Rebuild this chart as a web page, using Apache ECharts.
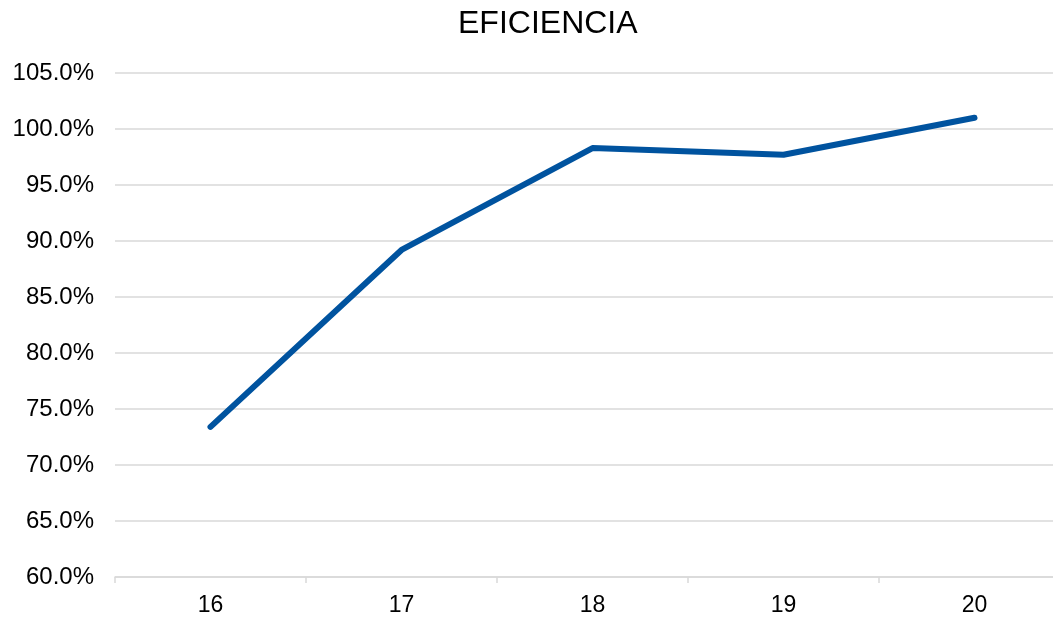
<!DOCTYPE html>
<html>
<head>
<meta charset="utf-8">
<script src="https://cdn.jsdelivr.net/npm/echarts@6/dist/echarts.min.js"></script>
<style>
  html, body { margin: 0; padding: 0; background: #fff; }
  #chart { width: 1053px; height: 618px; }
</style>
</head>
<body>
<div id="chart"></div>
<script>
// Data
const categories = ['16', '17', '18', '19', '20'];
const eficiencia = [73.4, 89.2, 98.3, 97.7, 101.0];

const chart = echarts.init(document.getElementById('chart'));
chart.setOption({
    animation: false,
    title: {
        text: 'EFICIENCIA',
        left: 453,
        top: 3,
        textStyle: { fontFamily: 'Liberation Sans', fontSize: 32, fontWeight: 'normal', color: '#000' }
    },
    // plot area runs a little past the right edge, as in the reference
    grid: { left: 115, top: 73, width: 955, height: 504, outerBoundsMode: 'none' },
    xAxis: {
        type: 'category',
        data: categories,
        boundaryGap: true,
        axisLine: { lineStyle: { color: '#d9d9d9', width: 1.5 } },
        axisTick: { show: true, length: 6, lineStyle: { color: '#d9d9d9', width: 1.5 } },
        axisLabel: { fontFamily: 'Liberation Sans', fontSize: 23, color: '#000', margin: 17 }
    },
    yAxis: {
        type: 'value',
        min: 60,
        max: 105,
        interval: 5,
        axisLine: { show: false },
        axisTick: { show: false },
        splitLine: { lineStyle: { color: '#d9d9d9', width: 1.5 } },
        axisLabel: {
            fontFamily: 'Liberation Sans', fontSize: 24, color: '#000', margin: 21,
            formatter: function (v) { return v.toFixed(1) + '%'; }
        }
    },
    series: [{
        type: 'line',
        data: eficiencia,
        showSymbol: false,
        symbol: 'none',
        lineStyle: { color: '#00539f', width: 6, cap: 'round', join: 'round' },
        itemStyle: { color: '#00539f' }
    }]
});
</script>
</body>
</html>
